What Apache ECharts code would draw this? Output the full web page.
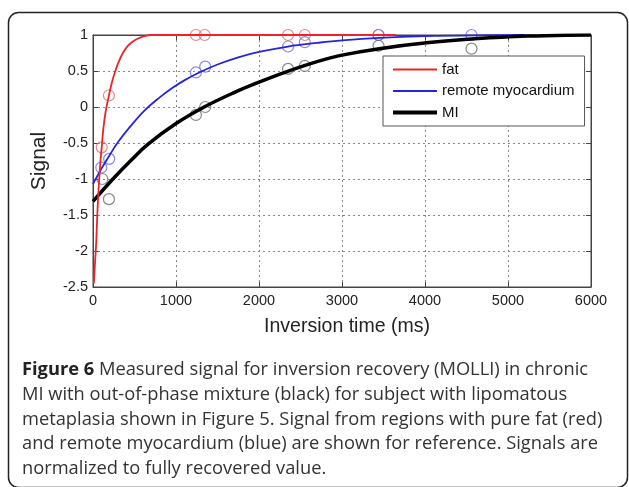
<!DOCTYPE html>
<html>
<head>
<meta charset="utf-8">
<script src="https://cdn.jsdelivr.net/npm/echarts@6/dist/echarts.min.js"></script>
<style>
  html, body { margin: 0; padding: 0; background: #fff; }
  #chart { width: 629px; height: 487px; }
</style>
</head>
<body>
<div id="chart"></div>
<script>
// Axis ticks
const xTicks = [0, 1000, 2000, 3000, 4000, 5000, 6000];
const yTicks = [-2.5, -2, -1.5, -1, -0.5, 0, 0.5, 1];

// Fitted recovery curves: [inversion time (ms), normalized signal]
const fatCurve = [
  [10, -2.45], [25, -2.15], [38, -1.9], [50, -1.55], [62, -1.25], [75, -1.0],
  [90, -0.75], [105, -0.56], [125, -0.3], [150, -0.08], [192, 0.16], [230, 0.35],
  [260, 0.47], [300, 0.6], [360, 0.75], [420, 0.85], [480, 0.91], [560, 0.96],
  [620, 0.985], [700, 1.0], [3650, 1.0]
];
const remoteCurve = [
  [0, -1.07], [100, -0.86], [200, -0.67], [300, -0.49], [450, -0.27], [620, -0.05],
  [800, 0.13], [950, 0.26], [1100, 0.37], [1280, 0.48], [1500, 0.59], [1750, 0.69],
  [2000, 0.765], [2350, 0.84], [2700, 0.89], [3000, 0.925], [3450, 0.96],
  [4000, 0.983], [4800, 0.997], [5200, 1.0]
];
const miCurve = [
  [0, -1.31], [240, -1.0], [450, -0.75], [660, -0.52], [1000, -0.23],
  [1340, 0.0], [1700, 0.2], [2000, 0.345], [2320, 0.485], [2700, 0.63],
  [3000, 0.72], [3450, 0.81], [4050, 0.895], [4640, 0.95], [5240, 0.985],
  [5700, 0.998], [6000, 1.0]
];

// Measured samples
const fatPoints = [
  [105, -0.56], [192, 0.16], [1240, 1.0], [1345, 1.0], [2350, 1.0], [2552, 1.0], [3440, 1.0]
];
const remotePoints = [
  [100, -0.84], [195, -0.72], [1240, 0.48], [1352, 0.56], [2350, 0.84], [2552, 0.9],
  [3440, 1.0], [4560, 1.0]
];
const miPoints = [
  [112, -1.0], [192, -1.28], [1240, -0.11], [1352, 0.0], [2350, 0.53], [2552, 0.57],
  [3440, 0.85], [4560, 0.81]
];

const seriesNames = ['fat', 'remote myocardium', 'MI'];

const captionLines = [
  'MI with out-of-phase mixture (black) for subject with lipomatous',
  'metaplasia shown in Figure 5. Signal from regions with pure fat (red)',
  'and remote myocardium (blue) are shown for reference. Signals are',
  'normalized to fully recovered value.'
];
const captionHead = 'Figure 6';
const captionFirst = ' Measured signal for inversion recovery (MOLLI) in chronic';

const chart = echarts.init(document.getElementById('chart'), null, { renderer: 'canvas' });

const axisFont = "'Liberation Sans', Arial, sans-serif";
const capFont = "'Open Sans', 'Noto Sans', sans-serif";

// legend strokes: a horizontal bar inside a 44x14 box
function legendBar(h) {
  const y0 = 7 - h / 2, y1 = 7 + h / 2;
  return 'path://M0,0M44,14M0,' + y0 + 'L44,' + y0 + 'L44,' + y1 + 'L0,' + y1 + 'Z';
}

function pointSeries(name, data, color) {
  return {
    name: name, type: 'scatter', data: data, symbol: 'circle', symbolSize: 11,
    itemStyle: { color: 'rgba(0,0,0,0)', borderColor: color, borderWidth: 1.2 },
    silent: true, z: 2
  };
}
function curveSeries(name, data, color, width, z) {
  return {
    name: name, type: 'line', data: data, showSymbol: false, symbol: 'none',
    lineStyle: { color: color, width: width }, itemStyle: { color: color },
    smooth: 0.4, silent: true, z: z
  };
}

const capY0 = 370, capStep = 24.75, capSize = 18.3;
const graphics = [
  {
    type: 'rect', shape: { x: 8.5, y: 12.5, width: 619, height: 475, r: 10 },
    style: { fill: 'none', stroke: '#222', lineWidth: 1.5 }, silent: true
  },
  {
    type: 'text', x: 22, y: capY0,
    style: {
      text: '{b|' + captionHead + '}{n|' + captionFirst + '}',
      verticalAlign: 'middle',
      rich: {
        b: { fontFamily: capFont, fontSize: capSize, fontWeight: 'bold', fill: '#222' },
        n: { fontFamily: capFont, fontSize: capSize, fill: '#333' }
      }
    }, silent: true
  }
];
captionLines.forEach(function (line, i) {
  graphics.push({
    type: 'text', x: 22, y: capY0 + capStep * (i + 1),
    style: { text: line, fontFamily: capFont, fontSize: capSize, fill: '#333', verticalAlign: 'middle' },
    silent: true
  });
});

const plainNumber = function (v) { return String(v); };

chart.setOption({
  animation: false,
  backgroundColor: '#fff',
  grid: { left: 93, right: 38, top: 35, bottom: 200, show: true, borderColor: '#444', borderWidth: 1 },
  legend: {
    data: [
      { name: seriesNames[0], icon: legendBar(2), itemStyle: { color: '#e8262a' } },
      { name: seriesNames[1], icon: legendBar(2), itemStyle: { color: '#2525d8' } },
      { name: seriesNames[2], icon: legendBar(4), itemStyle: { color: '#000' } }
    ],
    orient: 'vertical', left: 383, top: 56,
    padding: [6, 10, 6, 10], itemGap: 6.5, itemWidth: 44, itemHeight: 14,
    backgroundColor: '#fff', borderColor: '#555', borderWidth: 1,
    textStyle: { fontFamily: axisFont, fontSize: 15, color: '#111' },
    selectedMode: false
  },
  xAxis: [
    {
      type: 'value', min: xTicks[0], max: xTicks[xTicks.length - 1], interval: 1000,
      axisLine: { show: true, onZero: false, lineStyle: { color: '#444' } },
      axisTick: { show: true, inside: true, length: 5, lineStyle: { color: '#444' } },
      axisLabel: { fontFamily: axisFont, fontSize: 14.5, color: '#222', margin: 6, formatter: plainNumber },
      splitLine: { show: true, lineStyle: { color: '#888', type: [2, 3], width: 1 } },
      name: 'Inversion time (ms)', nameLocation: 'middle', nameGap: 30,
      nameTextStyle: { fontFamily: axisFont, fontSize: 19.5, color: '#222', verticalAlign: 'top', padding: [0, 0, 0, 10] }
    },
    {
      type: 'value', position: 'top', min: xTicks[0], max: xTicks[xTicks.length - 1], interval: 1000,
      axisLine: { show: true, onZero: false, lineStyle: { color: '#444' } },
      axisTick: { show: true, inside: true, length: 5, lineStyle: { color: '#444' } },
      axisLabel: { show: false }, splitLine: { show: false }
    }
  ],
  yAxis: [
    {
      type: 'value', min: yTicks[0], max: yTicks[yTicks.length - 1], interval: 0.5,
      axisLine: { show: true, onZero: false, lineStyle: { color: '#444' } },
      axisTick: { show: true, inside: true, length: 5, lineStyle: { color: '#444' } },
      axisLabel: { fontFamily: axisFont, fontSize: 14.5, color: '#222', margin: 5, formatter: plainNumber },
      splitLine: { show: true, lineStyle: { color: '#888', type: [2, 3], width: 1 } },
      name: 'Signal', nameLocation: 'middle', nameGap: 43, nameRotate: 90,
      nameTextStyle: { fontFamily: axisFont, fontSize: 21, color: '#222' }
    },
    {
      type: 'value', position: 'right', min: yTicks[0], max: yTicks[yTicks.length - 1], interval: 0.5,
      axisLine: { show: true, onZero: false, lineStyle: { color: '#444' } },
      axisTick: { show: true, inside: true, length: 5, lineStyle: { color: '#444' } },
      axisLabel: { show: false }, splitLine: { show: false }
    }
  ],
  series: [
    pointSeries('fat samples', fatPoints, '#e26a6a'),
    pointSeries('remote myocardium samples', remotePoints, '#6a6ae0'),
    pointSeries('MI samples', miPoints, '#6a6a6a'),
    curveSeries(seriesNames[1], remoteCurve, '#2525d8', 1.8, 3),
    curveSeries(seriesNames[2], miCurve, '#000000', 3.5, 4),
    curveSeries(seriesNames[0], fatCurve, '#e8262a', 1.8, 5)
  ],
  graphic: graphics
});
</script>
</body>
</html>
